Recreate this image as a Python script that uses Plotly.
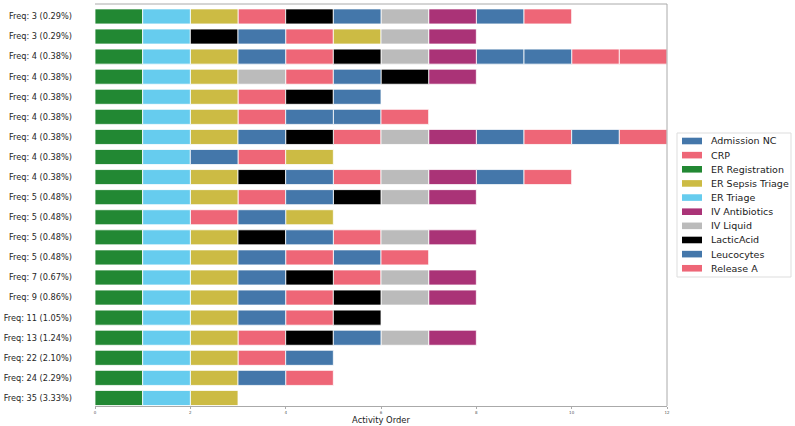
import plotly.graph_objects as go

activities = ["Admission NC", "CRP", "ER Registration", "ER Sepsis Triage", "ER Triage",
              "IV Antibiotics", "IV Liquid", "LacticAcid", "Leucocytes", "Release A"]
colors = ["#4477AA", "#EE6677", "#228833", "#CCBB44", "#66CCEE",
          "#AA3377", "#BBBBBB", "#000000", "#4477AA", "#EE6677"]

# variants listed top to bottom
row_labels = ["Freq: 3 (0.29%)", "Freq: 3 (0.29%)", "Freq: 4 (0.38%)", "Freq: 4 (0.38%)",
              "Freq: 4 (0.38%)", "Freq: 4 (0.38%)", "Freq: 4 (0.38%)", "Freq: 4 (0.38%)",
              "Freq: 4 (0.38%)", "Freq: 5 (0.48%)", "Freq: 5 (0.48%)", "Freq: 5 (0.48%)",
              "Freq: 5 (0.48%)", "Freq: 7 (0.67%)", "Freq: 9 (0.86%)", "Freq: 11 (1.05%)",
              "Freq: 13 (1.24%)", "Freq: 22 (2.10%)", "Freq: 24 (2.29%)", "Freq: 35 (3.33%)"]

R, T, S = "ER Registration", "ER Triage", "ER Sepsis Triage"
variants = [
    [R, T, S, "CRP", "LacticAcid", "Leucocytes", "IV Liquid", "IV Antibiotics", "Admission NC", "Release A"],
    [R, T, "LacticAcid", "Leucocytes", "CRP", S, "IV Liquid", "IV Antibiotics"],
    [R, T, S, "Leucocytes", "CRP", "LacticAcid", "IV Liquid", "IV Antibiotics", "Admission NC", "Leucocytes", "CRP", "Release A"],
    [R, T, S, "IV Liquid", "CRP", "Leucocytes", "LacticAcid", "IV Antibiotics"],
    [R, T, S, "CRP", "LacticAcid", "Leucocytes"],
    [R, T, S, "CRP", "Leucocytes", "Admission NC", "Release A"],
    [R, T, S, "Leucocytes", "LacticAcid", "CRP", "IV Liquid", "IV Antibiotics", "Admission NC", "CRP", "Leucocytes", "Release A"],
    [R, T, "Leucocytes", "CRP", S],
    [R, T, S, "LacticAcid", "Leucocytes", "CRP", "IV Liquid", "IV Antibiotics", "Admission NC", "Release A"],
    [R, T, S, "CRP", "Leucocytes", "LacticAcid", "IV Liquid", "IV Antibiotics"],
    [R, T, "CRP", "Leucocytes", S],
    [R, T, S, "LacticAcid", "Leucocytes", "CRP", "IV Liquid", "IV Antibiotics"],
    [R, T, S, "Leucocytes", "CRP", "Admission NC", "Release A"],
    [R, T, S, "Leucocytes", "LacticAcid", "CRP", "IV Liquid", "IV Antibiotics"],
    [R, T, S, "Leucocytes", "CRP", "LacticAcid", "IV Liquid", "IV Antibiotics"],
    [R, T, S, "Leucocytes", "CRP", "LacticAcid"],
    [R, T, S, "CRP", "LacticAcid", "Leucocytes", "IV Liquid", "IV Antibiotics"],
    [R, T, S, "CRP", "Leucocytes"],
    [R, T, S, "Leucocytes", "CRP"],
    [R, T, S],
]

x_ticks = [0, 2, 4, 6, 8, 10, 12]

W, H = 795, 426
PL, PR, PT, PB = 95, 667, 4, 406  # plot area in pixels


def px_to_paper(x, y):
    return (x - PL) / (PR - PL), (PB - y) / (PB - PT)


n = len(variants)
fig = go.Figure()
for act, col in zip(activities, colors):
    ys, bases = [], []
    for i, var in enumerate(variants):
        for pos, a in enumerate(var):
            if a == act:
                ys.append(n - 1 - i)
                bases.append(pos)
    fig.add_trace(go.Bar(
        orientation="h", y=ys, x=[1] * len(ys), base=bases, name=act,
        width=0.75, marker=dict(color=col, line=dict(color="white", width=0.8)),
        showlegend=False,
    ))

# legend drawn as box + swatches + text (matplotlib-like compact spacing)
shapes = []
annotations = []
bx0, by0 = px_to_paper(677, 133)
bx1, by1 = px_to_paper(791, 277)
shapes.append(dict(type="rect", xref="paper", yref="paper", x0=bx0, x1=bx1, y0=by1, y1=by0,
                   line=dict(color="#dddddd", width=1), fillcolor="white", layer="above"))
for k, (act, col) in enumerate(zip(activities, colors)):
    cy = 141 + k * 14.14
    sx0, sy0 = px_to_paper(682, cy - 3.3)
    sx1, sy1 = px_to_paper(702, cy + 3.3)
    shapes.append(dict(type="rect", xref="paper", yref="paper", x0=sx0, x1=sx1, y0=sy1, y1=sy0,
                       line=dict(width=0), fillcolor=col, layer="above"))
    tx, ty = px_to_paper(709, cy)
    annotations.append(dict(x=tx, y=ty, xref="paper", yref="paper", text=act, showarrow=False,
                            xanchor="left", yanchor="middle",
                            font=dict(size=9.5, color="#1a1a1a")))

shapes += [
    dict(type="line", xref="paper", yref="paper", x0=0, x1=1, y0=1, y1=1,
         line=dict(color="#aaaaaa", width=1)),
    dict(type="line", xref="paper", yref="paper", x0=1, x1=1, y0=0, y1=1,
         line=dict(color="#aaaaaa", width=1)),
]

fig.update_layout(
    width=W, height=H, barmode="overlay",
    margin=dict(l=PL, r=W - PR, t=PT, b=H - PB),
    plot_bgcolor="white", paper_bgcolor="white",
    font=dict(family="DejaVu Sans", color="#333333"),
    showlegend=False,
    xaxis=dict(range=[0, 12], tickvals=x_ticks, ticktext=[str(v) for v in x_ticks],
               showgrid=False, zeroline=False, showline=True, linecolor="#aaaaaa",
               linewidth=1, ticks="outside", ticklen=2, tickcolor="#aaaaaa",
               tickfont=dict(size=4, color="#555555"), automargin=False,
               title=dict(text="Activity Order", font=dict(size=8.4, color="#1a1a1a"), standoff=0)),
    yaxis=dict(range=[-0.4, n - 1 + 0.62], tickvals=list(range(n)),
               ticktext=row_labels[::-1], showgrid=False, zeroline=False,
               showline=False, ticks="", ticklen=0, ticklabelstandoff=22, automargin=False,
               tickfont=dict(size=8.2, color="#262626")),
    shapes=shapes,
    annotations=annotations,
)

fig.write_html("out.html")
